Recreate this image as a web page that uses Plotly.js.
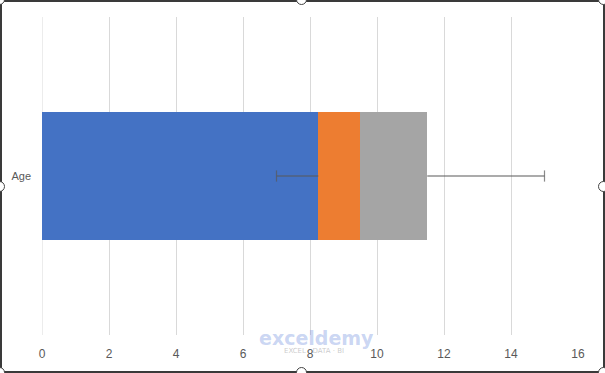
<!DOCTYPE html>
<html>
<head>
<meta charset="utf-8">
<script src="https://cdn.plot.ly/plotly-3.0.1.min.js"></script>
<style>
  html, body { margin: 0; padding: 0; background: #fff; }
  #wrap { position: relative; width: 605px; height: 373px; overflow: hidden; }
  #chart { width: 605px; height: 373px; }
  #frame { position: absolute; left: 0; top: 0; width: 601px; height: 369px; border: 2px solid #3a3a3a; pointer-events: none; }
  .h { position: absolute; width: 9px; height: 9px; border-radius: 50%; border: 1.5px solid #444; background: #fff; pointer-events: none; }
</style>
</head>
<body>
<div id="wrap">
  <div id="chart"></div>
  <div id="frame"></div>
  <div class="h" style="left:-6px;top:-6px"></div>
  <div class="h" style="left:296px;top:-6px"></div>
  <div class="h" style="left:598px;top:-6px"></div>
  <div class="h" style="left:-6px;top:181px"></div>
  <div class="h" style="left:598px;top:181px"></div>
  <div class="h" style="left:-6px;top:367px"></div>
  <div class="h" style="left:296px;top:367px"></div>
  <div class="h" style="left:598px;top:367px"></div>
</div>
<script>
const categories = ['Age'];
const minVals = [7];
const q1Vals = [8.25];
const medianVals = [9.5];
const q3Vals = [11.5];
const maxVals = [15];
const tickVals = [0, 2, 4, 6, 8, 10, 12, 14, 16];

const seg1 = q1Vals;
const seg2 = medianVals.map((m, i) => m - q1Vals[i]);
const seg3 = q3Vals.map((q, i) => q - medianVals[i]);

const whiskerColor = '#595959';
const traces = [
  { type: 'bar', orientation: 'h', y: categories, x: seg1, marker: { color: '#4472C4' }, hoverinfo: 'x' },
  { type: 'bar', orientation: 'h', y: categories, x: seg2, marker: { color: '#ED7D31' }, hoverinfo: 'x' },
  { type: 'bar', orientation: 'h', y: categories, x: seg3, marker: { color: '#A5A5A5' }, hoverinfo: 'x' }
];
categories.forEach((c, i) => {
  traces.push({
    type: 'scatter', mode: 'lines+markers', y: [c, c], x: [minVals[i], q1Vals[i]],
    line: { color: whiskerColor, width: 1.2 },
    marker: { symbol: 'line-ns', size: [8, 0], line: { color: whiskerColor, width: 1.2 } },
    hoverinfo: 'skip'
  });
  traces.push({
    type: 'scatter', mode: 'lines+markers', y: [c, c], x: [q3Vals[i], maxVals[i]],
    line: { color: whiskerColor, width: 1.2 },
    marker: { symbol: 'line-ns', size: [0, 8], line: { color: whiskerColor, width: 1.2 } },
    hoverinfo: 'skip'
  });
});

const layout = {
  width: 605, height: 373,
  margin: { l: 42, r: 27, t: 17, b: 38 },
  paper_bgcolor: '#ffffff', plot_bgcolor: '#ffffff',
  barmode: 'stack', bargap: 0.6,
  showlegend: false,
  font: { family: 'Liberation Sans, Arial, sans-serif', size: 11, color: '#595959' },
  xaxis: {
    range: [0, 16], tickvals: tickVals, ticktext: tickVals.map(String),
    showgrid: true, gridcolor: '#d9d9d9', gridwidth: 1,
    zeroline: false, showline: false, ticks: '',
    ticklabelstandoff: 10,
    tickfont: { size: 12, color: '#595959' },
    fixedrange: true
  },
  yaxis: {
    type: 'category', range: [-0.5, 0.5],
    showgrid: false, zeroline: false, showline: false, ticks: '',
    ticklabelstandoff: 10,
    tickfont: { size: 11, color: '#595959' },
    fixedrange: true
  },
  shapes: [
    { type: 'line', xref: 'x', yref: 'paper', x0: 0, x1: 0, y0: 0, y1: 1, line: { color: '#d9d9d9', width: 1 }, layer: 'below' }
  ],
  annotations: [
    { xref: 'paper', yref: 'paper', x: 0.513, y: -0.009, text: '<b>exceldemy</b>', showarrow: false,
      font: { family: 'DejaVu Sans, sans-serif', size: 19, color: 'rgba(120,150,225,0.4)' }, yanchor: 'middle', xanchor: 'center' },
    { xref: 'paper', yref: 'paper', x: 0.507, y: -0.05, text: 'EXCEL · DATA · BI', showarrow: false,
      font: { family: 'DejaVu Sans, sans-serif', size: 7, color: 'rgba(150,150,150,0.5)' }, yanchor: 'middle', xanchor: 'center' }
  ]
};

Plotly.newPlot('chart', traces, layout, { displayModeBar: false, staticPlot: true });
</script>
</body>
</html>
